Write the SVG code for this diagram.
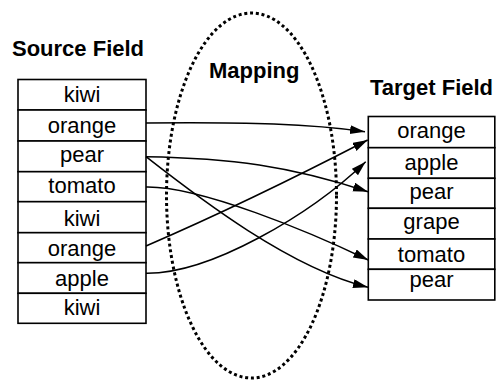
<svg xmlns="http://www.w3.org/2000/svg" width="496" height="388" viewBox="0 0 496 388">
  <style>
    .title { font-family: "Liberation Sans", Arial, sans-serif; font-size: 22px; font-weight: bold; fill: #000; }
    .cell-text { font-family: "Liberation Sans", Arial, sans-serif; font-size: 22px; fill: #000; text-anchor: middle; }
    .cell { fill: #fff; stroke: #000; stroke-width: 1.6; }
    .link { fill: none; stroke: #000; stroke-width: 1.5; marker-end: url(#arrow); }
    .scope { fill: none; stroke: #000; stroke-width: 3; stroke-dasharray: 3 2.8; stroke-linecap: butt; }
  </style>
  <defs>
    <marker id="arrow" markerUnits="userSpaceOnUse" markerWidth="16" markerHeight="10" refX="15" refY="4.5" orient="auto">
      <path d="M0,0 L15,4.5 L0,9 Z" fill="#000"/>
    </marker>
  </defs>
  <rect width="496" height="388" fill="#fff"/>

  <!-- dotted mapping region -->
  <g id="mapping">
    <ellipse class="scope" cx="251.5" cy="195.5" rx="85" ry="182.5"/>
    <text class="title" x="209" y="78">Mapping</text>
  </g>

  <!-- source field table -->
  <g id="source-field">
    <text class="title" x="12" y="56">Source Field</text>
    <rect class="cell" x="18" y="79.5" width="128" height="30.5"/>
    <rect class="cell" x="18" y="110" width="128" height="31"/>
    <rect class="cell" x="18" y="141" width="128" height="30.7"/>
    <rect class="cell" x="18" y="171.7" width="128" height="30"/>
    <rect class="cell" x="18" y="201.7" width="128" height="31"/>
    <rect class="cell" x="18" y="232.7" width="128" height="30"/>
    <rect class="cell" x="18" y="262.7" width="128" height="30.6"/>
    <rect class="cell" x="18" y="293.3" width="128" height="30"/>
    <text class="cell-text" x="82" y="101.7">kiwi</text>
    <text class="cell-text" x="82" y="133.3">orange</text>
    <text class="cell-text" x="82" y="161.7">pear</text>
    <text class="cell-text" x="82" y="193.3">tomato</text>
    <text class="cell-text" x="82" y="225.7">kiwi</text>
    <text class="cell-text" x="82" y="256">orange</text>
    <text class="cell-text" x="82" y="286">apple</text>
    <text class="cell-text" x="82" y="315">kiwi</text>
  </g>

  <!-- target field table -->
  <g id="target-field">
    <text class="title" x="370" y="95">Target Field</text>
    <rect class="cell" x="368.3" y="116.5" width="126.5" height="31.2"/>
    <rect class="cell" x="368.3" y="147.7" width="126.5" height="30.6"/>
    <rect class="cell" x="368.3" y="178.3" width="126.5" height="30"/>
    <rect class="cell" x="368.3" y="208.3" width="126.5" height="30.7"/>
    <rect class="cell" x="368.3" y="239" width="126.5" height="30.3"/>
    <rect class="cell" x="368.3" y="269.3" width="126.5" height="30.7"/>
    <text class="cell-text" x="431.5" y="138">orange</text>
    <text class="cell-text" x="431.5" y="170">apple</text>
    <text class="cell-text" x="431.5" y="198.5">pear</text>
    <text class="cell-text" x="431.5" y="228.5">grape</text>
    <text class="cell-text" x="431.5" y="261.5">tomato</text>
    <text class="cell-text" x="431.5" y="287">pear</text>
  </g>

  <!-- field mappings -->
  <g id="connectors">
    <path class="link" d="M146,123 C250,122 310,124 365,131.7"/>
    <path class="link" d="M146,156.7 C230,158 290,166 368,191.7"/>
    <path class="link" d="M146,156.7 C200,199 290,268 368,287.3"/>
    <path class="link" d="M146,187 C200,186 310,232 368.3,260"/>
    <path class="link" d="M146,246 C220,214 300,175 367.7,140"/>
    <path class="link" d="M146,273.3 C210,274 310,215 365.7,161.7"/>
  </g>
</svg>
